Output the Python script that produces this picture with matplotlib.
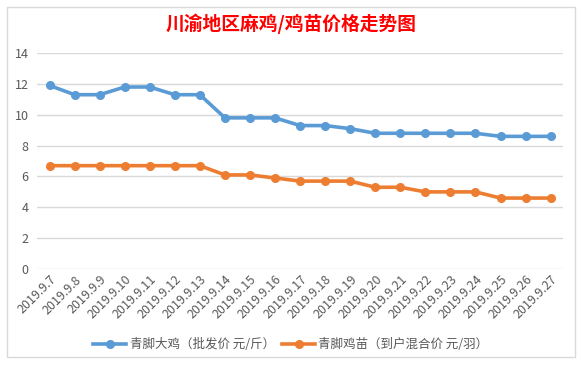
import matplotlib.pyplot as plt
from matplotlib.patches import Rectangle

plt.rcParams['font.family'] = ['Noto Sans CJK SC', 'DejaVu Sans']

dates = ["2019.9.7", "2019.9.8", "2019.9.9", "2019.9.10", "2019.9.11", "2019.9.12",
         "2019.9.13", "2019.9.14", "2019.9.15", "2019.9.16", "2019.9.17", "2019.9.18",
         "2019.9.19", "2019.9.20", "2019.9.21", "2019.9.22", "2019.9.23", "2019.9.24",
         "2019.9.25", "2019.9.26", "2019.9.27"]
big_chicken = [11.9, 11.3, 11.3, 11.8, 11.8, 11.3, 11.3, 9.8, 9.8, 9.8, 9.3, 9.3,
               9.1, 8.8, 8.8, 8.8, 8.8, 8.8, 8.6, 8.6, 8.6]
chick = [6.7, 6.7, 6.7, 6.7, 6.7, 6.7, 6.7, 6.1, 6.1, 5.9, 5.7, 5.7,
         5.7, 5.3, 5.3, 5.0, 5.0, 5.0, 4.6, 4.6, 4.6]
series_names = ["青脚大鸡（批发价 元/斤）", "青脚鸡苗（到户混合价 元/羽）"]

fig = plt.figure(figsize=(5.82, 3.66), dpi=100)
fig.patches.append(Rectangle((0.012, 0.025), 0.976, 0.955, transform=fig.transFigure,
                             fill=False, edgecolor="#d9d9d9", linewidth=1))
ax = fig.add_axes([0.0636, 0.265, 0.904, 0.59])

x = range(len(dates))
ax.plot(x, big_chicken, color="#5B9BD5", linewidth=2.6, marker="o", markersize=5.5,
        label=series_names[0], zorder=3)
ax.plot(x, chick, color="#ED7D31", linewidth=2.6, marker="o", markersize=5.5,
        label=series_names[1], zorder=3)

ax.set_xlim(-0.5, len(dates) - 0.5)
ax.set_ylim(0, 14)
ax.set_yticks(range(0, 15, 2))
ax.yaxis.grid(True, color="#d9d9d9", linewidth=1)
ax.set_axisbelow(True)
for s in ax.spines.values():
    s.set_visible(False)
ax.tick_params(axis="both", length=0, colors="#595959", labelsize=9)
ax.tick_params(axis="y", pad=6)
ax.tick_params(axis="x", pad=3)
ax.set_xticks(list(x))
ax.set_xticklabels(dates, rotation=45, ha="right", rotation_mode="anchor", fontsize=9)

fig.text(0.5, 0.935, "川渝地区麻鸡/鸡苗价格走势图", color="red", fontsize=13.5,
         fontweight="bold", ha="center", va="center")

fig.legend(loc="center", bbox_to_anchor=(0.5, 0.058), ncol=2, frameon=False,
           fontsize=9, handlelength=2.6, columnspacing=0.6, handletextpad=0.3,
           labelcolor="#595959")

fig.savefig("out.png", dpi=100)
